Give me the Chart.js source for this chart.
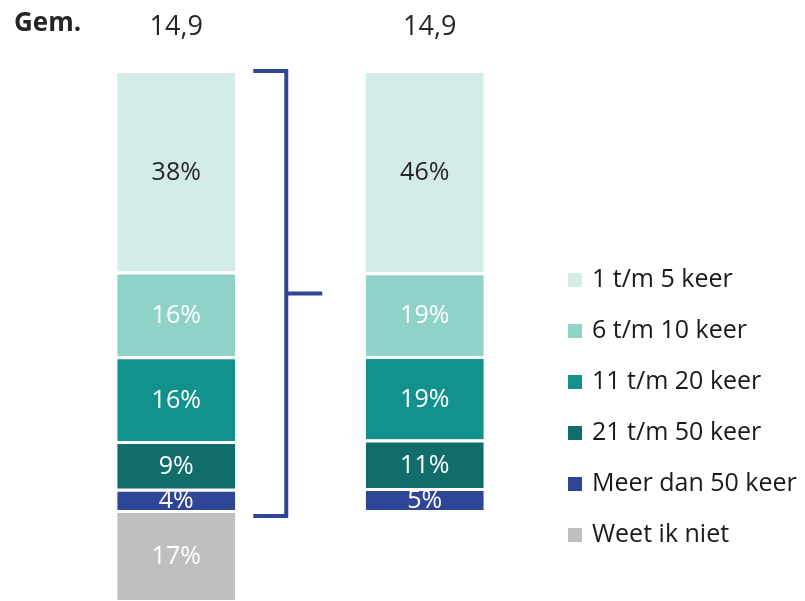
<!DOCTYPE html>
<html>
<head>
<meta charset="utf-8">
<script src="https://cdn.jsdelivr.net/npm/chart.js@4"></script>
<style>
  html, body { margin: 0; padding: 0; background: #fff; }
  #wrap { width: 805px; height: 601px; }
</style>
</head>
<body>
<div id="wrap"><canvas id="chart" width="805" height="601"></canvas></div>
<script>
const categories = ['1 t/m 5 keer', '6 t/m 10 keer', '11 t/m 20 keer', '21 t/m 50 keer', 'Meer dan 50 keer', 'Weet ik niet'];
const leftValues = [38, 16, 16, 9, 4, 17];
const rightValues = [46, 19, 19, 11, 5, null];
const averages = ['14,9', '14,9'];
const averageLabel = 'Gem.';
const colors = ['#D3ECE8', '#8FD3C8', '#13918C', '#116D69', '#2F4596', '#BFBFBF'];
const labelColors = ['#262626', '#ffffff', '#ffffff', '#ffffff', '#ffffff', '#ffffff'];
const bracketColor = '#2F4596';
const font = "'Open Sans', sans-serif";

// right bar leaves out "Weet ik niet", so its axis starts lower and both bars share the same top
const weetIkNiet = leftValues[leftValues.length - 1];
const rightMin = -weetIkNiet / (100 - weetIkNiet) * 100;

const datasets = [];
// first dataset sits at the bottom of the stack
for (let i = categories.length - 1; i >= 0; i--) {
    datasets.push({
        label: categories[i],
        data: [leftValues[i], null],
        backgroundColor: colors[i],
        borderColor: '#ffffff',
        borderWidth: { top: 3 },
        yAxisID: 'y',
        catIndex: i
    });
}
for (let i = categories.length - 1; i >= 0; i--) {
    if (rightValues[i] == null) continue;
    datasets.push({
        label: categories[i],
        data: [null, rightValues[i]],
        backgroundColor: colors[i],
        borderColor: '#ffffff',
        borderWidth: { top: 3 },
        yAxisID: 'y2',
        catIndex: i
    });
}

function barOf(chart, catIndex, col) {
    const d = chart.data.datasets.findIndex(ds => ds.catIndex === catIndex && ds.data[col] != null);
    if (d < 0) return null;
    return chart.getDatasetMeta(d).data[col];
}

const barLabels = {
    id: 'barLabels',
    afterDatasetsDraw(chart) {
        const ctx = chart.ctx;
        chart.data.datasets.forEach((ds, d) => {
            chart.getDatasetMeta(d).data.forEach((bar, j) => {
                const v = ds.data[j];
                if (v == null) return;
                const { x, y, base, width } = bar.getProps(['x', 'y', 'base', 'width'], true);
                ctx.save();
                ctx.beginPath();
                ctx.rect(x - width / 2, y + 3, width, base - y - 3);
                ctx.clip();
                ctx.fillStyle = labelColors[ds.catIndex];
                ctx.font = '25px ' + font;
                ctx.textAlign = 'center';
                ctx.textBaseline = 'middle';
                ctx.fillText(v + '%', x, (y + base) / 2 + 2);
                ctx.restore();
            });
        });
    }
};

const extras = {
    id: 'extras',
    afterDraw(chart) {
        const ctx = chart.ctx;
        ctx.save();

        // averages above the bars
        ctx.fillStyle = '#262626';
        ctx.textBaseline = 'alphabetic';
        ctx.font = 'bold 26px ' + font;
        ctx.textAlign = 'left';
        ctx.fillText(averageLabel, 14, 31);
        ctx.font = '27px ' + font;
        ctx.textAlign = 'center';
        averages.forEach((a, col) => {
            const top = barOf(chart, 0, col);
            ctx.fillText(a, top.x + (col === 1 ? 5 : 0), 35);
        });

        // bracket next to the first bar
        const top = barOf(chart, 0, 0);
        const bottom = barOf(chart, 4, 0);
        const x0 = top.x + top.width / 2 + 18;
        const x1 = x0 + 33;
        const y0 = top.y + 1;
        const y1 = bottom.base + 6;
        const ym = (y0 + y1) / 2;
        ctx.strokeStyle = bracketColor;
        ctx.lineWidth = 4;
        ctx.beginPath();
        ctx.moveTo(x0, y0);
        ctx.lineTo(x1, y0);
        ctx.lineTo(x1, y1);
        ctx.lineTo(x0, y1);
        ctx.moveTo(x1, ym);
        ctx.lineTo(x1 + 36, ym);
        ctx.stroke();

        // legend
        ctx.font = '25px ' + font;
        ctx.textAlign = 'left';
        ctx.textBaseline = 'middle';
        categories.forEach((c, i) => {
            const yc = 280 + i * 51;
            ctx.fillStyle = colors[i];
            ctx.fillRect(568, yc - 7, 14, 14);
            ctx.fillStyle = '#1a1a1a';
            ctx.fillText(c, 592, yc);
        });
        ctx.restore();
    }
};

new Chart(document.getElementById('chart'), {
    type: 'bar',
    data: { labels: ['', ''], datasets: datasets },
    options: {
        responsive: false,
        animation: false,
        layout: { padding: { left: 52, right: 256, top: 70, bottom: 1 } },
        datasets: { bar: { barPercentage: 0.475, categoryPercentage: 1 } },
        scales: {
            x: { stacked: true, display: false },
            y: { stacked: true, display: false, min: 0, max: 100 },
            y2: { stacked: true, display: false, min: rightMin, max: 100 }
        },
        plugins: { legend: { display: false }, tooltip: { enabled: false } }
    },
    plugins: [barLabels, extras]
});
</script>
</body>
</html>
